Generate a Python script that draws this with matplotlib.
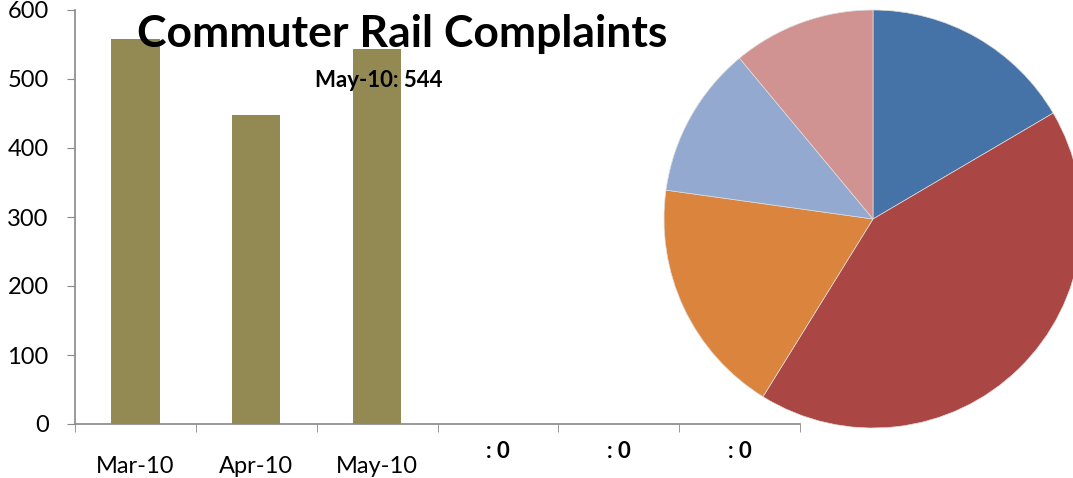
import matplotlib
matplotlib.use("Agg")
from matplotlib import pyplot as plt
from matplotlib import transforms

# bar chart data
months = ["Mar-10", "Apr-10", "May-10", "", "", ""]
complaints = [558, 448, 544, 0, 0, 0]
zero_labels = [": 0", ": 0", ": 0"]
yticks = [0, 100, 200, 300, 400, 500, 600]

# pie data (breakdown of May-10)
pie_values = [90, 230, 100, 64, 60]
pie_colors = ["#4572A7", "#AA4643", "#DB843D", "#93A9CF", "#D19392"]

plt.rcParams["font.family"] = ["Lato", "DejaVu Sans"]

W, H = 1073, 478
fig = plt.figure(figsize=(W / 100, H / 100), dpi=100)

# bar axes
ax = fig.add_axes([75 / W, (H - 424) / H, 725 / W, 414 / H])
x = list(range(len(months)))
ax.bar(x, complaints, width=0.4, color="#938953")
ax.set_xlim(-0.5, len(months) - 0.5)
ax.set_ylim(0, 600)
ax.set_yticks(yticks)
ax.tick_params(axis="y", labelsize=17, length=6, color="#888888", pad=13)
ax.set_xticks(x)
ax.set_xticklabels(months, fontsize=17)
ax.tick_params(axis="x", length=0, pad=23)
ax.set_xticks([i - 0.5 for i in range(len(months) + 1)], minor=True)
ax.tick_params(axis="x", which="minor", length=6, color="#888888", direction="out")
for s in ["top", "right"]:
    ax.spines[s].set_visible(False)
for s in ["left", "bottom"]:
    ax.spines[s].set_color("#888888")
    ax.spines[s].set_linewidth(1.2)

# the empty categories only show bold ": 0" labels
trans = transforms.blended_transform_factory(ax.transData, ax.transAxes)
for i, lab in enumerate(zero_labels):
    ax.text(3 + i, -0.067, lab, transform=trans, ha="center", va="center",
            fontsize=16, fontweight="bold")

ax.text(2.21, 547, "Commuter Rail Complaints", ha="center", va="baseline",
        fontsize=32, fontweight="bold")
ax.text(2.01, 498, "May-10: 544", ha="center", va="center",
        fontsize=16, fontweight="bold")

# pie axes
pax = fig.add_axes([664 / W, (H - 428) / H, 418 / W, 418 / H])
pax.pie(pie_values, colors=pie_colors, startangle=90, counterclock=False,
        wedgeprops={"linewidth": 0.5, "edgecolor": "#dddddd"})
pax.set_xlim(-1, 1)
pax.set_ylim(-1, 1)
pax.set_aspect("equal")
pax.axis("off")

fig.savefig("out.png", dpi=100)
